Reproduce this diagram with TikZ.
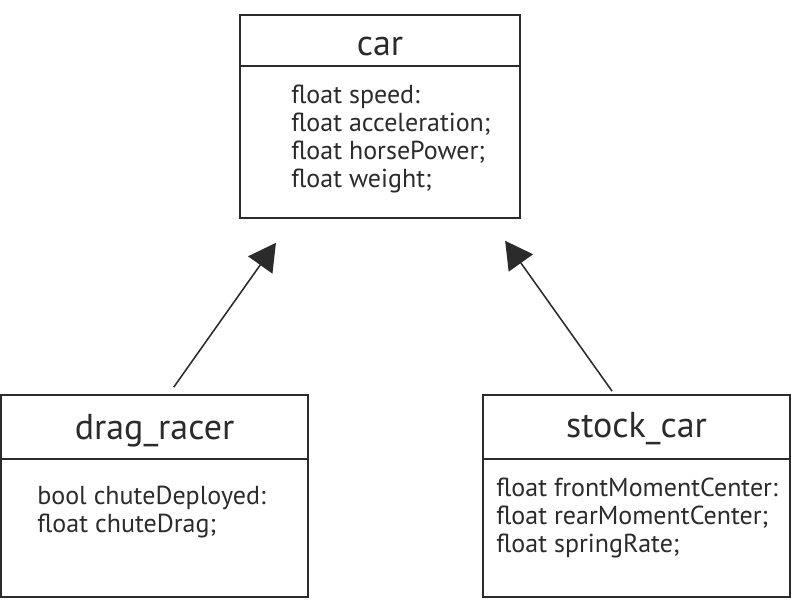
\documentclass[tikz,border=0pt]{standalone}
\usepackage{fontspec}
\setmainfont{PT Sans}
\usepackage{xcolor}
\usepackage{tikz}
\usetikzlibrary{arrows.meta, positioning, calc}
\definecolor{ink}{HTML}{2B2B2B}
\tikzstyle{classbox} = [draw=ink, rectangle, line width=1.4pt, inner sep=0pt]
\tikzstyle{classname} = [anchor=base, inner sep=0pt, text=ink, font=\fontsize{25.6}{28}\selectfont]
\tikzstyle{attrs} = [anchor=base west, inner sep=0pt, align=left, text=ink, font=\fontsize{18.5}{19.9}\selectfont]
\tikzstyle{divider} = [draw=ink, line width=1.2pt]
\tikzstyle{arrow} = [draw=ink, line width=1.1pt, -{Triangle[length=0.68cm, width=0.74cm]}]

\begin{document}
\begin{tikzpicture}
    \useasboundingbox (0,0) rectangle (19.775,15.05);
    % class boxes
    \node (car) [classbox, minimum width=7cm, minimum height=5.075cm] at (9.5,12.1375) {};
    \node (drag) [classbox, minimum width=7.675cm, minimum height=5.05cm] at (3.8625,2.65) {};
    \node (stock) [classbox, minimum width=7.675cm, minimum height=5.05cm] at (15.9125,2.65) {};

    % names
    \node (carname) [classname] at ([yshift=-1.025cm]car.north) {car};
    \node (dragname) [classname] at ([yshift=-1.125cm]drag.north) {drag\_racer};
    \node (stockname) [classname] at ([yshift=-1.075cm]stock.north) {stock\_car};

    \draw [divider] ([yshift=-1.3cm]car.north west) -- ([yshift=-1.3cm]car.north east);
    \draw [divider] ([yshift=-1.625cm]drag.north west) -- ([yshift=-1.625cm]drag.north east);
    \draw [divider] ([yshift=-1.625cm]stock.north west) -- ([yshift=-1.625cm]stock.north east);

    % attributes (anchored at the last line)
    \node (carattrs) [attrs] at ([xshift=1.3cm, yshift=-4.325cm]car.north west)
        {float speed:\\float acceleration;\\float horsePower;\\float weight;};
    \node (dragattrs) [attrs] at ([xshift=0.925cm, yshift=-3.45cm]drag.north west)
        {bool chuteDeployed:\\float chuteDrag;};
    \node (stockattrs) [attrs] at ([xshift=0.35cm, yshift=-3.95cm]stock.north west)
        {float frontMomentCenter:\\float rearMomentCenter;\\float springRate;};

    % inheritance
    \draw [arrow, shorten <=0.21cm, shorten >=0.73cm] ([xshift=0.36cm]drag.north) -- ([xshift=-2.18cm]car.south);
    \draw [arrow, shorten <=0.09cm, shorten >=0.67cm] ([xshift=-0.56cm]stock.north) -- ([xshift=2.74cm]car.south);
\end{tikzpicture}
\end{document}
